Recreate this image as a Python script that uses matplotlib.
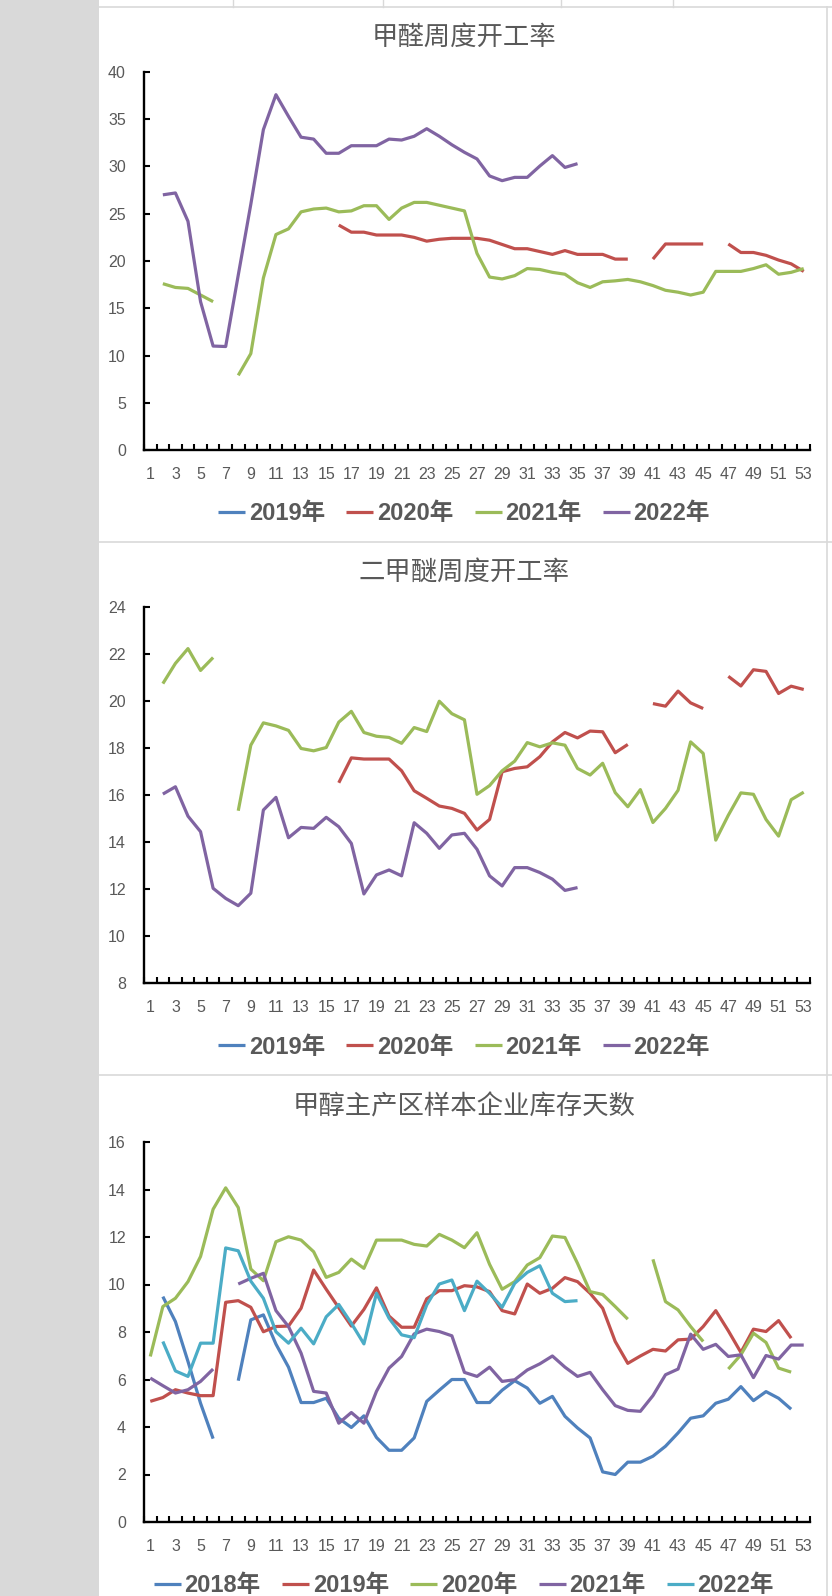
import numpy as np
import matplotlib
matplotlib.use("Agg")
import matplotlib.pyplot as plt
from matplotlib.font_manager import FontProperties

nan = np.nan
W, H = 832, 1596

weeks = np.arange(1, 54)
week_labels = [str(w) for w in range(1, 54, 2)]

# 甲醛周度开工率
hcho_2019 = [nan] * 53
hcho_2020 = [nan] * 15 + [23.8, 23.05, 23.05, 22.75, 22.75, 22.75, 22.5, 22.1, 22.3, 22.4,
                          22.4, 22.4, 22.2, 21.75, 21.3, 21.3, 21.0, 20.7, 21.1, 20.7,
                          20.7, 20.7, 20.2, 20.2, nan, 20.2, 21.8, 21.8, 21.8, 21.8,
                          nan, 21.8, 20.9, 20.9, 20.6, 20.1, 19.7, 18.9]
hcho_2021 = [nan, 17.6, 17.2, 17.1, 16.4, 15.7, nan, 7.9, 10.2, 18.2,
             22.8, 23.4, 25.2, 25.5, 25.6, 25.2, 25.3, 25.85, 25.85, 24.4,
             25.6, 26.2, 26.2, 25.9, 25.6, 25.3, 20.8, 18.3, 18.1, 18.45,
             19.2, 19.1, 18.8, 18.6, 17.7, 17.2, 17.8, 17.9, 18.05, 17.8,
             17.4, 16.9, 16.7, 16.4, 16.7, 18.9, 18.9, 18.9, 19.2, 19.6,
             18.6, 18.8, 19.2]
hcho_2022 = [nan, 27.0, 27.2, 24.2, 15.7, 11.0, 10.95, 18.5, 26.0, 33.9,
             37.6, 35.3, 33.1, 32.9, 31.4, 31.4, 32.2, 32.2, 32.2, 32.9,
             32.8, 33.2, 34.0, 33.2, 32.3, 31.5, 30.8, 29.0, 28.5, 28.85,
             28.85, 30.05, 31.15, 29.9, 30.3] + [nan] * 18

# 二甲醚周度开工率
dme_2019 = [nan] * 53
dme_2020 = [nan] * 15 + [16.52, 17.58, 17.53, 17.53, 17.53, 17.03, 16.18, 15.86, 15.53, 15.43,
                         15.22, 14.51, 14.96, 16.99, 17.13, 17.2, 17.63, 18.26, 18.66, 18.43,
                         18.72, 18.69, 17.8, 18.15, nan, 19.89, 19.78, 20.42, 19.92, 19.68,
                         nan, 21.05, 20.64, 21.33, 21.26, 20.32, 20.63, 20.49]
dme_2021 = [nan, 20.74, 21.6, 22.23, 21.3, 21.85, nan, 15.33, 18.12, 19.07,
            18.94, 18.75, 17.98, 17.88, 18.02, 19.1, 19.56, 18.66, 18.5, 18.45,
            18.2, 18.87, 18.7, 19.99, 19.46, 19.2, 16.03, 16.4, 17.03, 17.44,
            18.23, 18.05, 18.22, 18.12, 17.13, 16.85, 17.35, 16.1, 15.5, 16.23,
            14.83, 15.43, 16.2, 18.26, 17.77, 14.08, 15.14, 16.09, 16.03, 14.96,
            14.25, 15.8, 16.12]
dme_2022 = [nan, 16.04, 16.35, 15.1, 14.44, 12.03, 11.6, 11.29, 11.82, 15.36,
            15.9, 14.18, 14.62, 14.58, 15.05, 14.65, 13.94, 11.79, 12.6, 12.81,
            12.56, 14.82, 14.37, 13.73, 14.3, 14.37, 13.69, 12.56, 12.13, 12.91,
            12.91, 12.7, 12.42, 11.94, 12.06] + [nan] * 18

# 甲醇主产区样本企业库存天数
inv_2018 = [nan, 9.49, 8.44, 6.76, 5.0, 3.51, nan, 5.95, 8.51, 8.72,
            7.49, 6.52, 5.03, 5.03, 5.21, 4.37, 3.98, 4.47, 3.56, 3.02,
            3.02, 3.54, 5.08, 5.55, 6.0, 6.0, 5.03, 5.03, 5.55, 5.95,
            5.64, 5.0, 5.29, 4.45, 3.96, 3.54, 2.11, 2.0, 2.52, 2.52,
            2.77, 3.19, 3.75, 4.37, 4.47, 5.0, 5.17, 5.7, 5.11, 5.49,
            5.21, 4.75, nan]
inv_2019 = [5.08, 5.24, 5.57, 5.43, 5.32, 5.32, 9.25, 9.32, 9.04, 8.01,
            8.23, 8.25, 9.0, 10.61, 9.8, 9.02, 8.25, 8.95, 9.86, 8.67,
            8.2, 8.2, 9.4, 9.74, 9.74, 9.95, 9.9, 9.7, 8.9, 8.76,
            10.02, 9.63, 9.84, 10.29, 10.12, 9.63, 9.0, 7.6, 6.68, 6.99,
            7.27, 7.2, 7.67, 7.7, 8.23, 8.9, 8.05, 7.14, 8.12, 8.02,
            8.48, 7.74, nan]
inv_2020 = [6.97, 9.07, 9.42, 10.12, 11.18, 13.17, 14.07, 13.24, 10.65, 10.16,
            11.8, 12.01, 11.87, 11.38, 10.3, 10.51, 11.07, 10.68, 11.87, 11.87,
            11.87, 11.69, 11.62, 12.11, 11.87, 11.55, 12.18, 10.85, 9.8, 10.12,
            10.82, 11.13, 12.04, 11.98, 10.89, 9.7, 9.58, 9.07, 8.54, nan,
            11.06, 9.28, 8.93, 8.23, 7.6, nan, 6.44, 7.04, 7.95, 7.56,
            6.48, 6.31, nan]
inv_2021 = [6.06, 5.74, 5.43, 5.57, 5.92, 6.44, nan, 10.02, 10.26, 10.47,
            8.9, 8.23, 7.11, 5.5, 5.43, 4.16, 4.61, 4.16, 5.5, 6.48,
            6.97, 7.92, 8.12, 8.02, 7.84, 6.3, 6.13, 6.52, 5.92, 5.99,
            6.4, 6.66, 6.99, 6.52, 6.13, 6.3, 5.57, 4.9, 4.7, 4.66,
            5.32, 6.2, 6.44, 7.91, 7.27, 7.48, 6.97, 7.04, 6.08, 7.01,
            6.86, 7.45, 7.45]
inv_2022 = [nan, 7.6, 6.36, 6.13, 7.53, 7.53, 11.54, 11.42, 10.14, 9.42,
            8.01, 7.53, 8.16, 7.5, 8.64, 9.16, 8.37, 7.5, 9.63, 8.58,
            7.88, 7.76, 9.14, 10.02, 10.19, 8.9, 10.14, 9.63, 9.04, 10.05,
            10.51, 10.79, 9.63, 9.28, 9.32] + [nan] * 18

BLUE, RED, GREEN, PURPLE, AQUA = "#4F81BD", "#C0504D", "#9BBB59", "#8064A2", "#4BACC6"
GRAY_TXT = "#595959"

tick_font = FontProperties(family=["Liberation Sans", "DejaVu Sans"], size=11.5)
legend_font = FontProperties(family=["Liberation Sans", "Noto Sans CJK SC"], weight="bold", size=17)
title_font = FontProperties(family=["Noto Sans CJK SC", "DejaVu Sans"], weight="light", size=19)

fig = plt.figure(figsize=(W / 100, H / 100), dpi=100)

# background: sheet strip and panel borders
bg = fig.add_axes([0, 0, 1, 1], zorder=-5)
bg.set_xlim(0, W)
bg.set_ylim(H, 0)
bg.axis("off")
bg.fill_between([0, 99], 0, H, color="#d9d9d9", lw=0)
for yy in (7, 542, 1075):
    bg.plot([99, W], [yy, yy], color="#d9d9d9", lw=1.2)
bg.plot([827, 827], [7, H], color="#d9d9d9", lw=1.2)
for xx in (233, 383, 561, 673):
    bg.plot([xx, xx], [0, 7], color="#d9d9d9", lw=1)


def make_chart(top, bottom, ylim, ystep, title, series):
    ax = fig.add_axes([144 / W, 1 - bottom / H, 666 / W, (bottom - top) / H])
    for name, vals, col in series:
        ax.plot(weeks, np.array(vals, dtype=float), color=col, lw=2.3,
                label=name, solid_joinstyle="round", solid_capstyle="butt")
    ax.set_xlim(0.5, 53.5)
    ax.set_ylim(*ylim)
    ax.set_yticks(np.arange(ylim[0], ylim[1] + 0.1, ystep))
    ax.set_xticks(np.arange(0.5, 54, 1))
    ax.set_xticklabels([])
    ax.set_xticks(np.arange(1, 54, 2), minor=True)
    ax.set_xticklabels(week_labels, minor=True, fontproperties=tick_font, color=GRAY_TXT)
    for lab in ax.get_yticklabels():
        lab.set_fontproperties(tick_font)
        lab.set_color(GRAY_TXT)
    ax.tick_params(axis="both", which="major", direction="in", length=4, width=1.5, color="black")
    ax.tick_params(axis="y", pad=13)
    ax.tick_params(axis="x", which="minor", length=0, pad=12)
    for s in ("top", "right"):
        ax.spines[s].set_visible(False)
    for s in ("left", "bottom"):
        ax.spines[s].set_linewidth(1.7)
        ax.spines[s].set_color("black")
    ax.patch.set_alpha(0)
    bg.text(464, top - 35, title, ha="center", va="center", fontproperties=title_font, color=GRAY_TXT)
    ax.legend(loc="center", bbox_to_anchor=(464 / W, 1 - (bottom + 64) / H),
              bbox_transform=fig.transFigure, ncol=len(series), frameon=False,
              prop=legend_font, labelcolor=GRAY_TXT, handlelength=1.15,
              handletextpad=0.15, columnspacing=0.9, borderpad=0)
    return ax


make_chart(72, 450, (0, 40), 5, "甲醛周度开工率",
           [("2019年", hcho_2019, BLUE), ("2020年", hcho_2020, RED),
            ("2021年", hcho_2021, GREEN), ("2022年", hcho_2022, PURPLE)])
make_chart(607, 983, (8, 24), 2, "二甲醚周度开工率",
           [("2019年", dme_2019, BLUE), ("2020年", dme_2020, RED),
            ("2021年", dme_2021, GREEN), ("2022年", dme_2022, PURPLE)])
make_chart(1142, 1522, (0, 16), 2, "甲醇主产区样本企业库存天数",
           [("2018年", inv_2018, BLUE), ("2019年", inv_2019, RED),
            ("2020年", inv_2020, GREEN), ("2021年", inv_2021, PURPLE),
            ("2022年", inv_2022, AQUA)])

fig.savefig("out.png", dpi=100)
